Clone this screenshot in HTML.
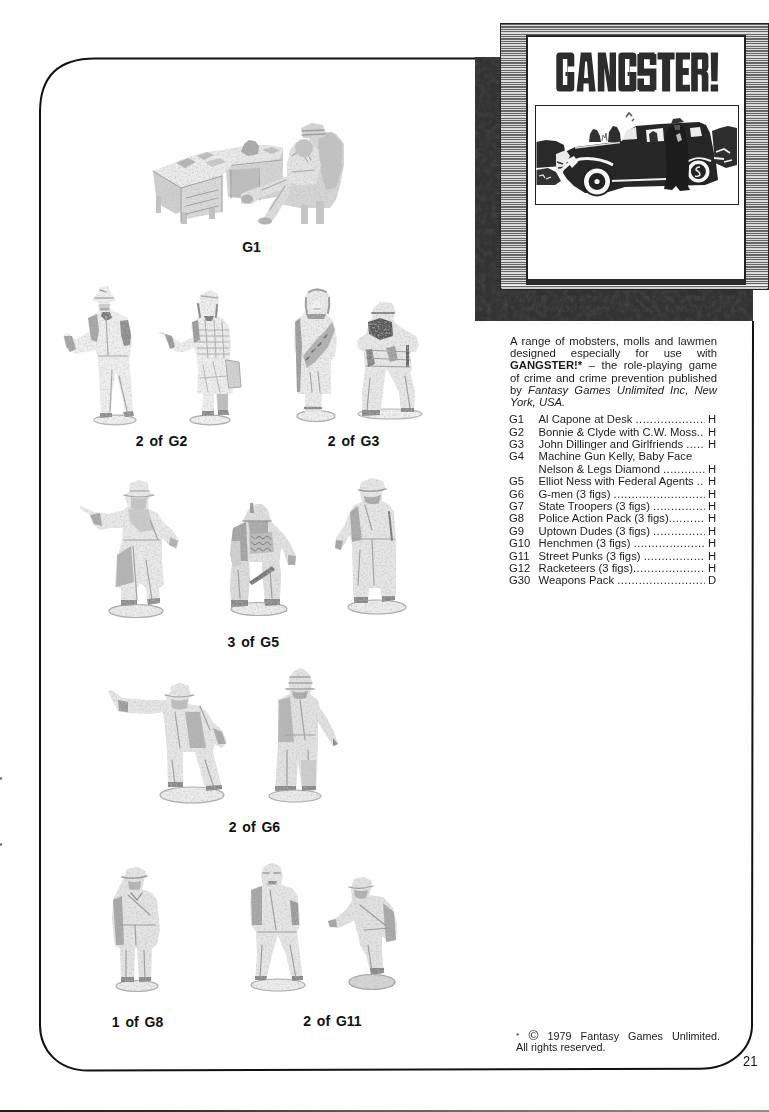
<!DOCTYPE html>
<html><head><meta charset="utf-8">
<style>
html,body{margin:0;padding:0;}
body{width:769px;height:1112px;position:relative;overflow:hidden;background:#fff;font-family:"Liberation Sans",sans-serif;color:#1a1a1a;}
.abs{position:absolute;}
#border{position:absolute;left:0;top:0;}
#shadow{left:475px;top:57px;width:278px;height:264px;background:#323232;}
#frame{left:500px;top:23px;width:269px;height:267px;box-sizing:border-box;border:1.5px solid #222;
 background:repeating-linear-gradient(180deg,#666 0px,#666 1.1px,#dadada 1.1px,#dadada 2.4px);}
#card{left:526px;top:35px;width:220px;height:249.5px;box-sizing:border-box;background:#fff;border:2px solid #222;border-right-width:2.5px;border-bottom-width:6.5px;border-bottom-color:#2a2a2a;}
#fb1{left:501.5px;top:284.6px;width:265px;height:1.9px;background:#f4f4f4;}
#fb2{left:501.5px;top:286.6px;width:265px;height:2.1px;background:#cfcfcf;}
#title{left:556px;top:46px;font-weight:bold;font-size:50px;line-height:50px;color:#2a2a2a;transform-origin:0 0;transform:scaleX(0.62);letter-spacing:0px;white-space:nowrap;}
#photo{left:535px;top:105px;width:203.5px;height:99.5px;box-sizing:border-box;border:1.5px solid #222;background:#fff;overflow:hidden;}
.lbl{position:absolute;font-weight:bold;font-size:14px;line-height:14px;color:#111;white-space:nowrap;word-spacing:2px;}
#desc{left:510px;top:335.8px;width:183.2px;font-size:10px;line-height:12.3px;color:#1a1a1a;transform-origin:0 0;transform:scaleX(1.13);}
.jl{text-align:justify;text-align-last:justify;white-space:nowrap;}
#desc .jl,#foot .jl{white-space:normal;}
#list{left:509px;top:414.1px;width:184px;font-size:10px;line-height:12.41px;color:#1a1a1a;transform-origin:0 0;transform:scaleX(1.125);}
.row{display:flex;height:12.41px;white-space:nowrap;}
.row .c{width:26.3px;flex:none;}
.row .n{flex:none;}
.row .d{flex:1;overflow:hidden;letter-spacing:0.4px;}
.row .r{flex:none;}
#foot{left:516px;top:1031.4px;width:188.9px;font-size:10px;line-height:10.9px;transform-origin:0 0;transform:scaleX(1.08);}
#pg{left:742.5px;top:1054px;font-size:14px;line-height:14px;color:#111;transform-origin:0 0;transform:scaleX(0.92);}
#botline{left:0;top:1109.6px;width:769px;height:2.4px;background:linear-gradient(90deg,#1e1e1e 0%,#333 25%,#5a5a5a 45%,#777 70%,#8e8e8e 100%);}
</style></head>
<body>
<svg id="border" width="769" height="1112" viewBox="0 0 769 1112">
 <path d="M475 58.4 L95 58.4 C58 58.4 40 76 40 112 L40 1025 C40 1050 58 1070.5 88 1070.5 L700 1068.8 C730 1068.8 752 1050 752 1025 L753 321" fill="none" stroke="#111" stroke-width="2"/>
</svg>
<div class="abs" id="shadow"></div>
<svg class="abs" style="left:475px;top:57px" width="278" height="264" viewBox="0 0 278 264">
<defs><filter id="sn" x="0" y="0" width="100%" height="100%"><feTurbulence type="fractalNoise" baseFrequency="0.18" numOctaves="2" seed="3" result="n"/>
<feColorMatrix in="n" type="matrix" values="0 0 0 0 1  0 0 0 0 1  0 0 0 0 1  0 0 0 0.5 -0.2"/></filter></defs>
<rect x="0" y="0" width="278" height="264" filter="url(#sn)" opacity="0.35"/>
<text x="6" y="245" font-family="Liberation Sans" font-weight="bold" font-size="9.5" fill="#fff" fill-opacity="0.045" textLength="266" lengthAdjust="spacingAndGlyphs">VXAN NIVER SAIL FOR MAIL ORDER DEPT STAND</text>
<text x="4" y="255" font-family="Liberation Sans" font-weight="bold" font-size="9.5" fill="#fff" fill-opacity="0.045" textLength="268" lengthAdjust="spacingAndGlyphs">VXAN GAMES WORKSHOP CITADEL MINIATURES UK</text>
</svg>
<div class="abs" id="frame"></div>
<div class="abs" id="card"></div>
<div class="abs" id="fb1"></div><div class="abs" id="fb2"></div>
<svg class="abs" style="left:0;top:0" width="769" height="120" viewBox="0 0 769 120"><g fill="#2c2c2c"><path fill-rule="evenodd" d="M559.8 52.6H570.8Q574.3 52.6 574.3 56.1V66.6H567.8V72.1H574.3V88.1Q574.3 91.6 570.8 91.6H559.8Q556.3 91.6 556.3 88.1V56.1Q556.3 52.6 559.8 52.6ZM562.9 59.1h4.4v26.0h-4.4zM580.8 52.6H591.4L595.6 91.6H588.9L588.6 83.6H583.6L583.3 91.6H576.6ZM585.2 61.6H587.0L588.2 78.1H584.0ZM597.8 52.6h18.2v39.0h-18.2zM604.4 67.6L608.0 91.6H604.4ZM605.8 52.6H609.6V76.6ZM621.9 52.6H632.9Q636.4 52.6 636.4 56.1V66.6H629.9V72.1H636.4V88.1Q636.4 91.6 632.9 91.6H621.9Q618.4 91.6 618.4 88.1V56.1Q618.4 52.6 621.9 52.6ZM625.0 59.1h4.4v26.0h-4.4zM691.2 52.6H704.4Q708.4 52.6 708.4 56.6V67.6Q708.4 70.6 706.4 71.6Q708.4 72.6 708.4 75.6V91.6H701.8V76.6Q701.8 74.6 699.8 74.6H697.8V91.6H691.2ZM697.8 59.4h4.2v9.4h-4.2z"/><path d="M565.5 72.1h2.0v4.0h-2.0zM627.6 72.1h2.0v4.0h-2.0zM639.1 52.6h15.5v6.6h-15.5zM637.4 54.1h6.6v20.5h-6.6zM649.8 54.1h6.6v11.0h-6.6zM637.4 68.6h19.0v7.2h-19.0zM649.8 70.6h6.6v19.5h-6.6zM639.1 85.0h15.5v6.6h-15.5zM637.4 78.6h6.6v11.5h-6.6zM657.5 52.6h17.1v6.8h-17.1zM662.1 52.6h8.0v39.0h-8.0zM675.8 52.6h7.0v39.0h-7.0zM675.8 52.6h14.2v6.8h-14.2zM675.8 68.0h13.0v6.9h-13.0zM675.8 84.7h14.2v6.9h-14.2zM710.7 52.6H718.1L717.5 81.2H711.3ZM710.7 84.6h7.4v7.0h-7.4z"/></g></svg>
<div class="abs" id="photo"></div>
<svg class="abs" style="left:0;top:0" width="769" height="330" viewBox="0 0 769 330">
<defs><clipPath id="pc"><rect x="536.5" y="106.5" width="200.5" height="96.5"/></clipPath>
<filter id="cb"><feGaussianBlur stdDeviation="0.45"/></filter></defs>
<g clip-path="url(#pc)" filter="url(#cb)">
 <!-- background dark hill left -->
 <polygon points="536,142 546,140 556,141 564,145 566,158 562,166 536,168" fill="#2a2a2a"/>
 <polygon points="536,170 548,168 556,172 561,181 555,185 536,185" fill="#333"/>
 <path d="M539 176 l4 -1 l2 3 M546 179 l5 -2" stroke="#eee" stroke-width="1.2" fill="none"/>
 <!-- trees top middle -->
 <polygon points="589,142 590,134 593,129 597,130 600,136 601,142" fill="#333"/>
 <polygon points="608,142 609,132 613,126 617,127 620,133 621,142" fill="#2e2e2e"/>
 <path d="M602 141 l1 -6 l2 3 l1 -5 l1 8" stroke="#666" stroke-width="1" fill="none"/>
 <path d="M626 117 l3 -4 l3 3 M632 121 l2 -2" stroke="#555" stroke-width="1.5" fill="none"/>
 <!-- right trees -->
 <polygon points="712,131 720,128 728,126 737,128 737,165 726,168 715,163" fill="#2e2e2e"/>
 <!-- car body -->
 <polygon points="565,152 575,147 600,144 622,141 629,130 636,126 660,124 699,122 706,125 710,133 713,148 716,163 718,180 705,185 665,186 625,187 605,193 585,193 574,186 567,179 561,170 559,160" fill="#252525"/>
 <!-- windshield -->
 <polygon points="622,140 627,130 636,127 637,139" fill="#e8e8e8"/>
 <!-- side window -->
 <polygon points="646,130 663,128 664,141 647,142" fill="#f2f2f2"/>
 <polygon points="649,134 653,131 657,133 658,142 650,142" fill="#333"/>
 <!-- rear window -->
 <polygon points="690,128 700,127 702,136 691,137" fill="#eee"/>
 <!-- hood highlight -->
 <path d="M575 148 L620 142.5" stroke="#ddd" stroke-width="1.3" fill="none"/>
 <!-- grille / bumper whites -->
 <polygon points="556,154 566,150 570,156 566,164 562,172 556,170" fill="#eaeaea"/>
 <polygon points="566,160 574,156 578,162 572,168" fill="#f4f4f4"/>
 <path d="M557 162 l6 2 M558 168 l8 -1" stroke="#333" stroke-width="1.4"/>
 <!-- front fender highlight -->
 <path d="M560 174 Q566 162 580 159 Q598 157 613 165" stroke="#f4f4f4" stroke-width="3" fill="none"/>
 <!-- running board -->
 <path d="M610 181 L666 179" stroke="#eee" stroke-width="2" fill="none"/>
 <!-- rear fender highlight -->
 <path d="M687 162 Q698 155 711 161" stroke="#eee" stroke-width="2" fill="none"/>
 <!-- front wheel -->
 <circle cx="597" cy="181.5" r="15" fill="#222"/>
 <circle cx="597" cy="181.5" r="10.7" fill="none" stroke="#f6f6f6" stroke-width="4.6"/>
 <circle cx="597" cy="181.5" r="2.6" fill="#eee"/>
 <!-- rear wheel -->
 <circle cx="698.4" cy="171.5" r="12.5" fill="#222"/>
 <circle cx="698.4" cy="171.5" r="9.3" fill="none" stroke="#f6f6f6" stroke-width="3.6"/>
 <path d="M700 167 Q696 167 696 170 Q700 172 700 175 Q698 177 695 176" stroke="#eee" stroke-width="1.4" fill="none"/>
 <!-- man standing -->
 <polygon points="671,126 677,124 683,126 686,134 688,150 689,168 688,186 690,190 680,191 676,186 672,190 664,189 667,175 666,150 665,135" fill="#1c1c1c"/>
 <polygon points="671,124 673,119 680,118 684,122" fill="#333"/><polygon points="674,125 680,125 680,130 675,130" fill="#555"/>
 <polygon points="676,135 680,133 682,140 678,142" fill="#bbb"/>
 <!-- ground clutter right -->
 <path d="M716 152 l8 -3 l6 4 M714 158 l10 1 M724 162 l8 -2" stroke="#f0f0f0" stroke-width="1.8" fill="none"/>
</g>
</svg>


<svg class="abs" style="left:0;top:0" width="769" height="1112" viewBox="0 0 769 1112" id="figs">
<defs><filter id="bl" x="-10%" y="-10%" width="120%" height="120%">
<feTurbulence type="fractalNoise" baseFrequency="0.55" numOctaves="2" seed="7" result="n"/>
<feColorMatrix in="n" type="matrix" values="0 0 0 0 0.5  0 0 0 0 0.5  0 0 0 0 0.5  0 0 0 1.6 -0.72" result="g"/>
<feComposite in="g" in2="SourceAlpha" operator="in" result="gm"/>
<feMerge result="m"><feMergeNode in="SourceGraphic"/><feMergeNode in="gm"/></feMerge>
<feGaussianBlur in="m" stdDeviation="0.55"/></filter></defs>
<g filter="url(#bl)" stroke-linejoin="round" stroke-linecap="round">
<!-- G1 -->
<g id="g1">
 <!-- return desk (behind) -->
 <polygon points="224,150 245,146 268,145 283,148 283,166 282,196 270,198 258,200 228,197 226,170" fill="#d4d4d4"/>
 <polygon points="224,150 245,146 268,145 283,148 280,158 262,163 240,166 226,166" fill="#e8e8e8"/>
 <polygon points="229,170 258,168 260,199 231,197" fill="#bdbdbd"/>
 <path d="M226 166 L282 160 M231 170 L231 198 M259 168 L260 200" stroke="#a0a0a0" stroke-width="1" fill="none"/>
 <polygon points="241,152 244,144 249,140 255,141 259,146 258,154 248,156" fill="#a9a9a9"/>
 <polygon points="262,150 272,147 280,150 272,154" fill="#c0c0c0"/>
 <!-- left desk -->
 <polygon points="153,171 186,158 200,153 222,150 232,152 238,158 222,176 181,188" fill="#ececec"/>
 <polygon points="153,171 181,188 181,212 176,214 162,206 156,196" fill="#cfcfcf"/>
 <polygon points="181,188 222,176 222,212 181,220" fill="#dadada"/>
 <rect x="156" y="196" width="5" height="17" fill="#c2c2c2"/>
 <rect x="181" y="212" width="6" height="12" fill="#c2c2c2"/>
 <rect x="209" y="208" width="6" height="11" fill="#c2c2c2"/>
 <path d="M153 171 L181 188 L222 176 M181 188 L181 222 M222 176 L222 212 M186 198 L218 190 M186 206 L218 198 M186 214 L218 206" stroke="#9c9c9c" stroke-width="1" fill="none"/>
 <polygon points="176,163 188,158 196,162 185,168" fill="#b4b4b4"/>
 <polygon points="197,156 207,152 214,155 204,160" fill="#bdbdbd"/>
 <polygon points="205,162 220,158 226,162 212,167" fill="#c8c8c8"/>
 <!-- chair -->
 <polygon points="310,136 322,131 336,134 344,144 344,165 340,185 336,200 330,208 300,208 280,204 276,190 282,180 305,178 308,160" fill="#d6d6d6"/>
 <polygon points="318,135 332,132 342,142 342,168 336,188 326,190 320,168" fill="#c2c2c2"/>
 <rect x="301" y="205" width="7" height="19" fill="#c6c6c6"/>
 <rect x="316" y="201" width="8" height="23" fill="#c6c6c6"/>
 <!-- man -->
 <polygon points="296,142 290,150 287,165 287,180 298,186 316,184 321,166 318,150 312,142" fill="#e4e4e4"/>
 <path d="M292 156 L300 150 L308 162 M292 172 L314 170 M303 146 L311 160" stroke="#a6a6a6" stroke-width="1.1" fill="none"/>
 <polygon points="289,176 275,181 262,186 250,190 241,194 241,204 252,204 262,197 275,192 292,186" fill="#e2e2e2"/>
 <polygon points="287,182 280,192 272,203 266,214 261,222 270,224 276,216 282,206 290,194" fill="#dedede"/>
 <path d="M286 180 L262 190 M285 186 L270 210" stroke="#a8a8a8" stroke-width="1.1" fill="none"/>
 <ellipse cx="247" cy="199" rx="6" ry="4.5" fill="#b2b2b2"/>
 <ellipse cx="265" cy="221" rx="7" ry="3.5" fill="#b2b2b2"/>
 <ellipse cx="304" cy="148" rx="9" ry="9" fill="#c4c4c4"/>
 <polygon points="301,128 312,123 323,125 326,136 318,139 303,138" fill="#d4d4d4"/>
 <path d="M302 131 L324 130 M302 135 L325 134" stroke="#9c9c9c" stroke-width="1.3"/>
</g>
<!-- G2 man -->
<g id="g2a">
 <ellipse cx="115" cy="420" rx="21" ry="4.8" fill="#f0f0f0" stroke="#b4b4b4" stroke-width="1.2"/>
 <path d="M100 287 L108 286 L111 293 L116 300 L110 302 L111 311 L118 313 L128 318 L131 330 L132 345 L129 360 L131 380 L133 412 L126 416 L122 396 L116 372 L112 392 L111 414 L101 417 L100 392 L98 360 L96 350 L86 352 L75 354 L67 348 L63 336 L68 333 L76 340 L92 330 L89 320 L96 313 L99 311 L98 302 L92 300 L97 294 Z" fill="#efefef"/>
 <path d="M88 318 L97 314 L99 330 L97 342 L91 340 Z" fill="#a6a6a6"/>
 <path d="M120 321 L128 320 L131 335 L130 345 L124 346 L121 335 Z" fill="#8c8c8c"/>
 <path d="M102 312 L110 312 L112 318 L106 321 L101 316 Z" fill="#7a7a7a"/>
 <path d="M99 304 L110 304 L109 311 L100 311 Z" fill="#cfcfcf"/>
 <path d="M100 309 L109 309 M95 298 L113 298 M100 290 L106 292" stroke="#8a8a8a" stroke-width="1.2" fill="none"/>
 <path d="M64 336 L72 336 L76 349 L70 352 L66 346 Z" fill="#a2a2a2"/>
 <path d="M99 356 L128 356 M106 316 L108 355 M112 370 L110 412 M119 376 L127 411" stroke="#a8a8a8" stroke-width="1.2" fill="none"/>
 <path d="M100 413 L112 413 L112 417 L100 418 Z M123 412 L133 411 L134 416 L125 417 Z" fill="#8e8e8e"/>
</g>
<!-- G2 woman -->
<g id="g2b">
 <ellipse cx="210" cy="420" rx="20" ry="4.8" fill="#f0f0f0" stroke="#aaa" stroke-width="1.2"/>
 <path d="M199 303 L201 294 L210 290 L218 294 L219 304 L217 316 L222 318 L229 326 L231 345 L230 358 L232 380 L233 393 L228 394 L228 414 L218 415 L216 394 L214 394 L214 414 L202 415 L203 394 L197 394 L198 370 L197 358 L194 348 L184 352 L176 352 L170 347 L164 335 L157 333 L162 332 L172 337 L181 343 L193 337 L191 325 L197 318 L199 316 Z" fill="#eeeeee"/>
 <path d="M226 360 L239 362 L241 387 L229 388 Z" fill="#d2d2d2" stroke="#a5a5a5" stroke-width="1"/>
 <path d="M196 330 L229 330 M196 336 L229 336 M196 342 L229 342 M197 348 L229 348 M198 354 L229 354 M205 320 L208 358 M214 320 L216 358 M222 322 L224 358" stroke="#aeaeae" stroke-width="1" fill="none"/>
 <path d="M192 322 L198 320 L200 340 L194 343 Z" fill="#9a9a9a"/>
 <path d="M198 304 L200 317 M217 305 L216 317" stroke="#888" stroke-width="2" fill="none"/>
 <path d="M204 316 L214 316 L212 321 L206 321 Z" fill="#7e7e7e"/>
 <path d="M203 365 L208 392 M213 362 L220 392 M200 378 L228 376" stroke="#b8b8b8" stroke-width="1" fill="none"/>
 <path d="M217 394 L228 394 L228 414 L218 414 Z" fill="#bdbdbd"/>
 <path d="M165 334 L172 336 L175 347 L170 349 Z" fill="#9a9a9a"/>
 <path d="M202 411 L214 411 L214 415 L202 416 Z M218 410 L228 410 L229 415 L218 415 Z" fill="#8a8a8a"/>
 <path d="M201 296 L218 298" stroke="#b0b0b0" stroke-width="1.3"/>
</g>
<!-- G3 woman -->
<g id="g3a">
 <ellipse cx="316" cy="416" rx="19" ry="5.5" fill="#efefef" stroke="#aaa" stroke-width="1.2"/>
 <path d="M305 301 Q305 289 317 288 Q330 289 330 301 L329 310 L326 314 L333 320 L337 340 L335 356 L331 360 L331 394 L322 394 L321 412 L305 412 L305 394 L298 394 L297 360 L294 345 L295 322 L304 313 L306 310 Z" fill="#ebebeb"/>
 <path d="M295 322 L300 318 L302 345 L300 392 L297 392 Z" fill="#9c9c9c"/>
 <path d="M303 356 L316 340 L326 330 L332 322 L335 330 L328 347 L315 362 L307 368 Z" fill="#b0b0b0"/>
 <path d="M306 360 l3 -3 M312 352 l3 -3 M318 346 l3 -3 M324 338 l3 -3" stroke="#666" stroke-width="1.6"/>
 <path d="M306 314 L326 314 L324 319 L308 319 Z" fill="#9c9c9c"/>
 <path d="M306 298 Q305 306 307 313 M329 298 Q330 306 328 313 M309 292 Q317 287 326 292" stroke="#999" stroke-width="2" fill="none"/><ellipse cx="317" cy="306" rx="5" ry="5.5" fill="#f4f4f4"/><path d="M314 309 L320 309" stroke="#999" stroke-width="1.2"/>
 <path d="M310 372 L312 392 M318 372 L320 392" stroke="#a4a4a4" stroke-width="1.2" fill="none"/>
 <path d="M305 408 L321 408" stroke="#888" stroke-width="2.5"/>
</g>
<!-- G3 Dillinger -->
<g id="g3b">
 <ellipse cx="390" cy="414" rx="32" ry="5" fill="#f0f0f0" stroke="#b5b5b5" stroke-width="1.2"/>
 <path d="M373 309 L380 302 L392 303 L396 312 L393 318 L394 322 L405 330 L416 336 L419 345 L416 352 L410 352 L412 370 L410 372 L415 392 L414 411 L401 412 L399 392 L392 378 L386 368 L383 392 L380 415 L362 416 L362 392 L365 370 L364 352 L358 348 L357 340 L366 334 L369 322 L372 318 Z" fill="#e8e8e8"/>
 <path d="M368 322 L380 318 L392 322 L393 336 L380 340 L369 334 Z" fill="#595959"/>
 <path d="M372 313 L394 313" stroke="#888" stroke-width="2"/>
 <path d="M366 350 L410 352 M366 358 L410 360 M366 366 L410 367 M370 378 L367 410 M405 376 L410 408" stroke="#9c9c9c" stroke-width="1.2" fill="none"/>
 <path d="M366 350 L372 349 L375 364 L368 367 Z" fill="#858585"/>
 <path d="M386 348 L395 346 L398 360 L390 362 Z" fill="#a0a0a0"/>
 <path d="M406 345 L409 345 L409 367 L406 367 Z" fill="#666"/>
 <path d="M362 410 L380 410 L380 415 L362 416 Z M401 408 L414 408 L414 412 L401 412 Z" fill="#8a8a8a"/>
</g>
<!-- G5 fig1 -->
<g id="g5a">
 <ellipse cx="136" cy="611" rx="27" ry="6.5" fill="#ebebeb" stroke="#a8a8a8" stroke-width="1.2"/>
 <path d="M124 495 L129 492 L130 483 L139 480 L148 483 L149 492 L154 495 L149 498 L148 509 L158 513 L163 522 L172 530 L179 540 L177 548 L170 546 L162 538 L162 560 L164 585 L159 588 L160 602 L148 605 L146 588 L140 583 L137 588 L137 605 L121 606 L121 588 L115 587 L117 560 L122 540 L123 528 L110 528 L100 530 L93 524 L90 515 L80 509 L80 506 L95 512 L108 514 L124 510 L128 506 Z" fill="#e9e9e9"/>
 <path d="M117 555 L131 546 L134 582 L116 587 Z" fill="#b2b2b2"/>
 <path d="M128 509 L148 509 L155 530 L140 532 L130 522 Z" fill="#cacaca"/>
 <path d="M131 497 Q139 500 147 497 L146 508 Q139 511 131 508 Z" fill="#c4c4c4" stroke="none"/><path d="M124 495 Q139 499 154 495 M130 491 L149 491 M133 546 L137 600 M124 540 L160 540 M146 560 L152 600 M150 520 L158 540" stroke="#a0a0a0" stroke-width="1.2" fill="none"/>
 <path d="M90 515 L100 513 L102 526 L94 524 Z" fill="#a6a6a6"/>
 <path d="M170 537 L178 541 L176 548 L169 545 Z" fill="#b0b0b0"/>
 <path d="M121 600 L137 600 L137 605 L121 606 Z M147 599 L160 598 L160 603 L148 605 Z" fill="#8e8e8e"/>
</g>
<!-- G5 fig2 -->
<g id="g5b">
 <ellipse cx="259" cy="609" rx="28" ry="6.5" fill="#ececec" stroke="#aaa" stroke-width="1.2"/>
 <path d="M233 558 L249 560 L250 580 L248 600 L248 606 L232 607 L230 590 L231 570 Z" fill="#dcdcdc"/>
 <path d="M262 558 L279 556 L281 575 L280 600 L280 605 L265 606 L264 590 L262 572 Z" fill="#e0e0e0"/>
 <path d="M233 528 L246 521 L270 521 L278 528 L281 545 L280 560 L262 562 L250 562 L232 561 L231 545 Z" fill="#e2e2e2"/>
 <path d="M233 528 L246 522 L248 561 L231 561 L231 545 Z" fill="#a2a2a2"/>
 <path d="M249 533 L272 532 L274 552 L250 554 Z" fill="#bcbcbc"/>
 <path d="M251 536 l4 3 l4 -3 l4 3 l4 -3 l4 3 M251 542 l4 3 l4 -3 l4 3 l4 -3 l4 3 M251 548 l4 3 l4 -3 l4 3 l4 -3 l4 3" stroke="#777" stroke-width="1" fill="none"/>
 <path d="M231 541 L240 541 L241 566 L233 567 L230 555 Z" fill="#d0d0d0"/>
 <path d="M274 527 L282 532 L290 543 L296 556 L295 565 L288 565 L284 552 L277 542 Z" fill="#e2e2e2"/>
 <path d="M288 555 L296 556 L295 565 L288 565 Z" fill="#aaa"/>
 <path d="M248 520 L268 520 L268 533 L250 534 Z" fill="#a8a8a8"/>
 <path d="M243 521 L247 512 L252 505 L262 504 L268 510 L271 521 Z" fill="#dedede"/>
 <path d="M243 521 L271 521" stroke="#999" stroke-width="1.5"/>
 <path d="M250 503 L253 503 L254 513 L250 513 Z" fill="#999"/>
 <path d="M249 582 L272 566 L275 570 L252 585 Z" fill="#777"/>
 <path d="M231 600 L248 600 L248 606 L231 607 Z M264 599 L280 599 L280 605 L265 606 Z" fill="#888"/>
 <path d="M238 570 L240 598 M270 570 L272 598" stroke="#9c9c9c" stroke-width="1.2" fill="none"/>
</g>
<!-- G5 fig3 -->
<g id="g5c">
 <ellipse cx="377" cy="607" rx="29" ry="7" fill="#ececec" stroke="#aaa" stroke-width="1.2"/>
 <path d="M359 490 L361 482 L372 478 L383 481 L386 489 L382 492 L382 501 L390 505 L394 512 L396 540 L396 586 L395 600 L382 602 L380 588 L369 588 L368 603 L354 603 L353 588 L352 545 L350 535 L344 545 L340 550 L335 548 L336 538 L344 526 L350 512 L354 505 L362 502 Z" fill="#e6e6e6"/>
 <path d="M350 512 L358 506 L362 540 L352 542 Z" fill="#a8a8a8"/>
 <path d="M353 539 L395 539 M372 540 L374 585 M360 550 L358 585 M365 505 L372 530" stroke="#a0a0a0" stroke-width="1.2" fill="none"/>
 <path d="M389 512 L392 540" stroke="#777" stroke-width="2"/>
 <path d="M336 540 L343 541 L341 550 L335 548 Z" fill="#a4a4a4"/>
 <path d="M359 490 Q372 493 386 489" stroke="#999" stroke-width="1.4" fill="none"/><path d="M364 496 Q372 499 381 495 L379 503 Q372 506 365 502 Z" fill="#a8a8a8"/>
 <path d="M354 597 L368 597 L368 603 L354 603 Z M382 596 L395 596 L395 600 L382 602 Z" fill="#888"/>
</g>
<!-- G6 fig1 -->
<g id="g6a">
 <ellipse cx="192" cy="795" rx="32" ry="8" fill="#ececec" stroke="#aaa" stroke-width="1.2"/>
 <path d="M165 695 L170 693 L171 686 L180 683 L189 686 L190 693 L194 695 L189 698 L188 704 L200 706 L207 712 L213 722 L222 730 L227 742 L222 748 L214 744 L213 752 L222 788 L206 791 L200 770 L195 752 L183 752 L183 786 L168 787 L167 752 L165 728 L163 712 L150 714 L128 713 L118 711 L112 700 L108 691 L112 690 L122 698 L150 700 L167 700 Z" fill="#e6e6e6"/>
 <path d="M185 712 L200 712 L206 748 L190 748 Z" fill="#b2b2b2"/>
 <path d="M118 700 L128 702 L128 712 L119 711 Z" fill="#999"/>
 <path d="M171 699 Q179 702 188 699 L187 708 Q179 711 172 708 Z" fill="#bdbdbd" stroke="none"/><path d="M165 695 Q179 699 194 695 M175 712 L180 748 M200 706 L210 730 M172 760 L175 785 M205 760 L214 788" stroke="#a0a0a0" stroke-width="1.2" fill="none"/>
 <path d="M213 728 L222 732 L226 744 L218 744 Z" fill="#a8a8a8"/>
 <path d="M168 782 L183 782 L183 787 L168 787 Z M206 786 L222 785 L222 789 L206 791 Z" fill="#888"/>
</g>
<!-- G6 fig2 -->
<g id="g6b">
 <ellipse cx="295" cy="796" rx="26" ry="6" fill="#ebebeb" stroke="#aaa" stroke-width="1.2"/>
 <path d="M289 684 Q289 672 300 668 Q312 672 312 684 L310 694 L318 700 L320 708 L327 718 L334 732 L338 744 L333 746 L326 735 L318 722 L318 744 L316 790 L302 791 L298 760 L296 790 L275 791 L277 760 L278 744 L278 700 L290 694 Z" fill="#e2e2e2"/>
 <path d="M290 677 L310 677 M289 683 L312 683 M286 689 L314 689" stroke="#a4a4a4" stroke-width="1.3"/><path d="M292 691 Q300 694 308 691 L306 698 Q300 700 294 698 Z" fill="#a8a8a8"/>
 <path d="M279 700 L290 697 L294 742 L278 742 Z" fill="#b6b6b6"/>
 <path d="M300 700 L305 740 M285 735 L315 735 M287 750 L287 788 M308 750 L309 788" stroke="#9c9c9c" stroke-width="1.2" fill="none"/>
 <path d="M301 760 L316 760 L316 790 L302 790 Z" fill="#cdcdcd"/>
 <path d="M333 738 L338 744 L333 746 Z" fill="#888"/>
 <path d="M275 786 L296 786 L296 790 L275 791 Z M302 786 L316 786 L316 790 L302 791 Z" fill="#888"/>
</g>
<!-- G8 -->
<g id="g8">
 <ellipse cx="137" cy="986" rx="21" ry="5.5" fill="#ebebeb" stroke="#aaa" stroke-width="1.2"/>
 <path d="M124 877 L127 869 L137 867 L146 871 L145 878 L142 889 L152 893 L157 900 L160 930 L157 944 L152 948 L151 980 L139 982 L137 948 L135 948 L134 982 L121 982 L120 948 L115 946 L112 920 L113 900 Z" fill="#e4e4e4"/>
 <path d="M113 900 L122 896 L124 945 L116 945 Z" fill="#a6a6a6"/>
 <path d="M128 895 L150 915 M120 925 L155 925 M135 925 L136 945 M126 950 L126 980 M144 950 L145 980" stroke="#9c9c9c" stroke-width="1.2" fill="none"/>
 <path d="M122 877 Q134 880 147 876" stroke="#999" stroke-width="1.4" fill="none"/><path d="M128 881 Q134 883 141 881 L140 889 Q134 891 129 889 Z" fill="#b4b4b4"/><path d="M131 893 L137 900 L142 893" stroke="#888" stroke-width="1.2" fill="none"/>
 <path d="M121 977 L134 977 L134 982 L121 982 Z M139 977 L151 977 L151 981 L139 982 Z" fill="#888"/>
</g>
<!-- G11 fig1 -->
<g id="g11a">
 <ellipse cx="278" cy="985" rx="27" ry="6" fill="#ededed" stroke="#aaa" stroke-width="1.2"/>
 <path d="M261 876 Q262 864 272 863 Q282 864 283 876 L281 885 L292 888 L298 896 L300 925 L297 932 L300 955 L303 980 L292 981 L286 955 L278 935 L272 955 L266 980 L255 980 L257 955 L256 932 L251 925 L250 900 L255 888 L263 885 Z" fill="#e6e6e6"/>
 <path d="M251 890 L262 886 L262 925 L252 925 Z" fill="#a4a4a4"/><path d="M263 873 L269 873 M274 873 L280 873" stroke="#999" stroke-width="1.6"/><path d="M268 881 L277 881 L276 884 L269 884 Z" fill="#8a8a8a"/>
 <path d="M290 900 L298 903 L299 925 L292 925 Z" fill="#999"/>
 <path d="M270 890 L276 930 M258 932 L296 932 M267 884 L276 884 M262 945 L260 978 M290 945 L296 978" stroke="#999" stroke-width="1.2" fill="none"/>
 <path d="M255 976 L267 976 L266 980 L255 980 Z M292 976 L303 976 L303 980 L292 981 Z" fill="#888"/>
</g>
<!-- G11 fig2 -->
<g id="g11b">
 <ellipse cx="372" cy="982" rx="23" ry="7.5" fill="#d6d6d6" stroke="#999" stroke-width="1.2"/>
 <path d="M351 887 L354 879 L364 877 L372 881 L371 889 L369 895 L383 897 L393 908 L397 925 L396 940 L388 942 L382 936 L382 955 L384 973 L371 975 L366 955 L360 945 L358 935 L354 920 L348 924 L338 928 L329 927 L328 921 L336 918 L346 910 L352 900 Z" fill="#e2e2e2"/>
 <path d="M383 903 L394 912 L396 940 L386 942 Z" fill="#a6a6a6"/><path d="M354 890 Q360 892 368 890 L366 898 Q360 900 355 897 Z" fill="#b0b0b0"/>
 <path d="M360 905 L385 925 M364 930 L390 928 M349 887 Q360 890 373 886 M368 945 L372 972" stroke="#999" stroke-width="1.2" fill="none"/>
 <path d="M328 921 L336 919 L337 927 L330 927 Z" fill="#a4a4a4"/>
 <path d="M370 968 L384 968 L384 973 L371 975 Z" fill="#888"/>
</g>
</g>
</svg>


<div class="lbl" style="left:242.2px;top:240px;">G1</div>
<div class="lbl" style="left:135.8px;top:434px;">2 of G2</div>
<div class="lbl" style="left:327.8px;top:434px;">2 of G3</div>
<div class="lbl" style="left:227.6px;top:635px;">3 of G5</div>
<div class="lbl" style="left:228.7px;top:820px;">2 of G6</div>
<div class="lbl" style="left:111.8px;top:1014.5px;">1 of G8</div>
<div class="lbl" style="left:303.2px;top:1013.5px;">2 of G11</div>

<div class="abs" id="desc">
<div class="jl">A range of mobsters, molls and lawmen</div>
<div class="jl">designed especially for use with</div>
<div class="jl"><b>GANGSTER!*</b> &ndash; the role-playing game</div>
<div class="jl">of crime and crime prevention published</div>
<div class="jl">by <i>Fantasy Games Unlimited Inc, New</i></div>
<div><i>York, USA.</i></div>
</div>

<div class="abs" id="list">
<div class="row"><span class="c">G1</span><span class="n">Al Capone at Desk&nbsp;</span><span class="d">................................................................................</span><span class="r">&nbsp;H</span></div>
<div class="row"><span class="c">G2</span><span class="n">Bonnie &amp; Clyde with C.W. Moss</span><span class="d">................................................................................</span><span class="r">&nbsp;H</span></div>
<div class="row"><span class="c">G3</span><span class="n">John Dillinger and Girlfriends&nbsp;</span><span class="d">................................................................................</span><span class="r">&nbsp;H</span></div>
<div class="row"><span class="c">G4</span><span class="n">Machine Gun Kelly, Baby Face</span></div>
<div class="row"><span class="c"></span><span class="n">Nelson &amp; Legs Diamond&nbsp;</span><span class="d">................................................................................</span><span class="r">&nbsp;H</span></div>
<div class="row"><span class="c">G5</span><span class="n">Elliot Ness with Federal Agents&nbsp;</span><span class="d">................................................................................</span><span class="r">&nbsp;H</span></div>
<div class="row"><span class="c">G6</span><span class="n">G-men (3 figs)&nbsp;</span><span class="d">................................................................................</span><span class="r">&nbsp;H</span></div>
<div class="row"><span class="c">G7</span><span class="n">State Troopers (3 figs)&nbsp;</span><span class="d">................................................................................</span><span class="r">&nbsp;H</span></div>
<div class="row"><span class="c">G8</span><span class="n">Police Action Pack (3 figs)</span><span class="d">................................................................................</span><span class="r">&nbsp;H</span></div>
<div class="row"><span class="c">G9</span><span class="n">Uptown Dudes (3 figs)&nbsp;</span><span class="d">................................................................................</span><span class="r">&nbsp;H</span></div>
<div class="row"><span class="c">G10</span><span class="n">Henchmen (3 figs)&nbsp;</span><span class="d">................................................................................</span><span class="r">&nbsp;H</span></div>
<div class="row"><span class="c">G11</span><span class="n">Street Punks (3 figs)&nbsp;</span><span class="d">................................................................................</span><span class="r">&nbsp;H</span></div>
<div class="row"><span class="c">G12</span><span class="n">Racketeers (3 figs)</span><span class="d">................................................................................</span><span class="r">&nbsp;H</span></div>
<div class="row"><span class="c">G30</span><span class="n">Weapons Pack&nbsp;</span><span class="d">................................................................................</span><span class="r">&nbsp;D</span></div>
</div>

<div class="abs" id="foot"><div class="jl"><span style="font-size:8px;vertical-align:2px">*</span> <span style="font-size:12.5px;line-height:10px">&copy;</span> 1979 Fantasy Games Unlimited.</div><div>All rights reserved.</div></div>
<div class="abs" id="pg">21</div>
<div class="abs" id="botline"></div>
<svg class="abs" style="left:0;top:770px" width="8" height="84" viewBox="0 770 8 84"><ellipse cx="0.8" cy="778.5" rx="1.4" ry="1.2" fill="#666"/><ellipse cx="0.8" cy="844.5" rx="1.4" ry="1.2" fill="#666"/></svg>
</body></html>
